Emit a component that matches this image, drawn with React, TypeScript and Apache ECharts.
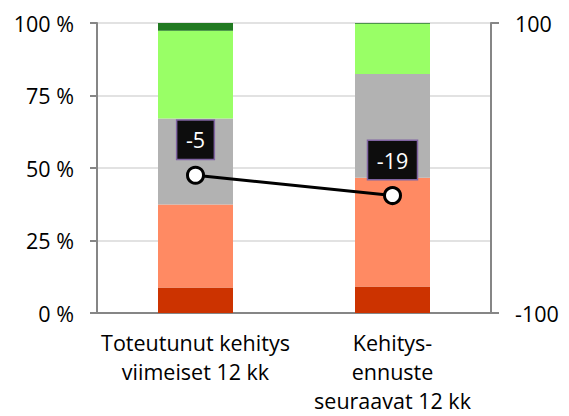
import React, { useEffect, useRef } from "react";
import * as echarts from "echarts";

const categories = ["Toteutunut kehitys\nviimeiset 12 kk", "Kehitys-\nennuste\nseuraavat 12 kk"];
const darkRed = [8.8, 9.1];
const salmon = [28.6, 37.5];
const gray = [29.7, 35.8];
const lightGreen = [30.2, 17.3];
const darkGreen = [2.7, 0.3];
const balance = [-5, -19];
const leftTicks = [0, 25, 50, 75, 100];
const rightTicks = [-100, 100];

const FONT = "Open Sans";
const FS = 21.5;

export default function App() {
  const ref = useRef<HTMLDivElement>(null);
  useEffect(() => {
    document.body.style.margin = "0";
    const chart = echarts.init(ref.current!, null, { renderer: "svg" });
    const bar = (name: string, data: number[], color: string) => ({
      name,
      type: "bar",
      stack: "s",
      data,
      barWidth: 75,
      itemStyle: { color },
      emphasis: { disabled: true },
    });
    chart.setOption({
      animation: false,
      textStyle: { fontFamily: FONT },
      grid: { left: 97, right: 78, top: 23, bottom: 103, containLabel: false, outerBoundsMode: "none" },
      xAxis: {
        type: "category",
        data: categories,
        axisLine: { lineStyle: { color: "#868686", width: 2 } },
        axisTick: { show: false },
        axisLabel: {
          color: "#000",
          fontSize: FS,
          fontFamily: FONT,
          lineHeight: 29,
          margin: 15,
          interval: 0,
        },
      },
      yAxis: [
        {
          type: "value",
          min: 0,
          max: 100,
          interval: 25,
          axisLine: { show: true, lineStyle: { color: "#868686", width: 2 } },
          axisTick: { show: true, length: 7, lineStyle: { color: "#868686", width: 2 }, customValues: leftTicks },
          axisLabel: {
            color: "#000",
            fontSize: FS,
            fontFamily: FONT,
            margin: 23,
            formatter: "{value} %",
            customValues: leftTicks,
          },
          splitLine: { show: true, lineStyle: { color: "#d9d9d9", width: 1.5 } },
        },
        {
          type: "value",
          min: -100,
          max: 100,
          position: "right",
          axisLine: { show: true, lineStyle: { color: "#868686", width: 2 } },
          axisTick: { show: true, length: 8, lineStyle: { color: "#868686", width: 2 }, customValues: rightTicks },
          axisLabel: {
            color: "#000",
            fontSize: FS,
            fontFamily: FONT,
            margin: 24,
            customValues: rightTicks,
          },
          splitLine: { show: false },
        },
      ],
      series: [
        bar("darkRed", darkRed, "#cc3300"),
        bar("salmon", salmon, "#ff8a63"),
        bar("gray", gray, "#b2b2b2"),
        bar("lightGreen", lightGreen, "#99ff66"),
        bar("darkGreen", darkGreen, "#217a21"),
        {
          name: "balance",
          type: "line",
          yAxisIndex: 1,
          data: balance,
          symbol: "circle",
          symbolSize: 16,
          lineStyle: { color: "#000", width: 3 },
          itemStyle: { color: "#fff", borderColor: "#000", borderWidth: 3 },
          emphasis: { disabled: true },
          label: {
            show: true,
            position: "top",
            distance: 7,
            color: "#fff",
            fontSize: FS,
            fontFamily: FONT,
            lineHeight: 22,
            backgroundColor: "#0d0d0d",
            borderColor: "#8064a2",
            borderWidth: 1.5,
            padding: [8, 8.5, 8, 8.5],
          },
          z: 10,
        },
      ],
    });
    return () => chart.dispose();
  }, []);
  return <div ref={ref} style={{ width: 569, height: 416 }} />;
}
